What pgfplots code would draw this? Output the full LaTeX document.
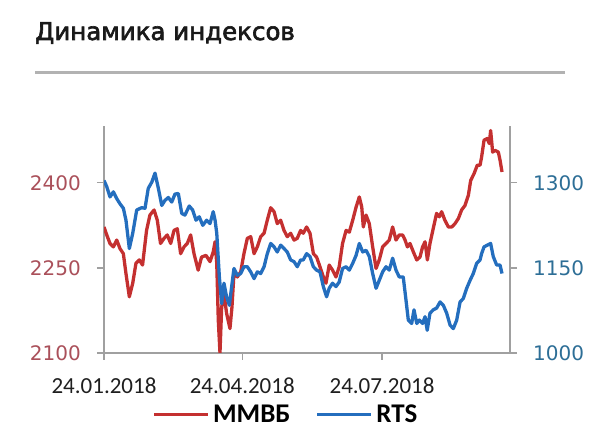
\documentclass[border=0pt]{standalone}
\usepackage{pgfplots}
\usepackage{pgfplotstable}
\pgfplotsset{compat=1.18}
\usepackage{fontspec}
\setmainfont{Carlito}
\newfontfamily\dejavu{DejaVu Sans}
\newfontfamily\titlefont[FakeBold=2.5]{DejaVu Sans}

\definecolor{mmvbred}{RGB}{196,48,48}
\definecolor{rtsblue}{RGB}{36,110,190}
\definecolor{leftlab}{RGB}{170,80,90}
\definecolor{rightlab}{RGB}{45,110,150}
\definecolor{axgray}{RGB}{160,160,160}
\definecolor{rulegray}{RGB}{178,178,178}

% day = days since 24.01.2018
\pgfplotstableread{
day mmvb
0 2322
1.8 2308
3.9 2293
6.1 2287
8.3 2299
10.4 2284
12.6 2275
14.3 2240
16.5 2199
18.7 2223
20.8 2258
23.0 2264
25.1 2255
27.7 2316
29.9 2343
32.6 2352
34.7 2334
36.8 2293
39.1 2302
41.2 2308
43.4 2293
45.6 2316
47.7 2319
49.9 2275
52.1 2287
54.2 2293
56.4 2308
58.6 2275
61.3 2246
63.5 2269
66.4 2272
69.0 2261
71.1 2278
72.3 2296
73.4 2258
74.4 2158
75.5 2100
76.6 2181
78.1 2205
79.8 2170
82.0 2143
83.3 2181
84.6 2240
86.8 2234
89.0 2243
91.1 2275
93.3 2302
95.5 2305
97.7 2275
99.8 2287
102.0 2305
104.2 2311
106.3 2334
108.5 2356
110.7 2349
112.8 2328
115.0 2334
117.2 2316
119.3 2305
121.5 2311
123.7 2299
125.8 2302
128.0 2316
129.7 2311
131.9 2322
134.1 2311
136.3 2275
138.4 2269
140.6 2252
142.8 2234
144.5 2223
146.6 2255
148.8 2246
151.0 2234
153.1 2252
155.3 2293
157.6 2316
159.7 2313
161.9 2334
164.1 2357
166.2 2375
167.8 2357
168.8 2322
170.6 2343
172.7 2328
174.9 2287
177.1 2249
179.2 2264
181.4 2287
183.6 2293
185.7 2299
187.9 2322
190.1 2299
192.2 2308
194.4 2308
196.0 2299
197.5 2287
199.2 2293
201.4 2278
203.6 2264
205.7 2269
207.4 2287
209.0 2296
210.5 2264
212.2 2293
214.3 2319
216.5 2346
218.3 2340
219.8 2349
221.9 2334
224.2 2322
226.4 2322
228.5 2328
230.7 2337
232.8 2352
235.0 2360
237.2 2378
238.7 2404
240.9 2416
243.0 2431
244.8 2431
245.8 2445
247.4 2475
249.5 2478
250.8 2469
251.7 2492
253.0 2454
254.6 2457
256.7 2454
257.8 2440
259.1 2419
}\mmvb

\pgfplotstableread{
day rts
0 1304
1.8 1293
3.9 1275
6.1 1284
8.3 1272
10.4 1263
12.6 1255
14.3 1234
16.5 1184
18.7 1211
21.3 1252
24.5 1256
26.7 1255
28.8 1290
31.1 1301
33.2 1317
35.4 1290
37.6 1260
39.7 1269
41.9 1274
44.1 1266
46.2 1280
48.4 1281
50.6 1246
52.7 1243
55.5 1259
57.7 1252
59.9 1234
62.0 1240
64.3 1225
66.8 1234
69.0 1228
71.1 1249
72.3 1234
73.4 1211
75.1 1134
76.6 1087
78.1 1123
79.8 1099
81.6 1084
83.1 1117
84.6 1149
86.8 1137
89.0 1140
91.1 1152
93.3 1152
95.5 1143
97.7 1131
99.8 1143
102.0 1140
104.2 1152
106.3 1175
108.5 1193
110.7 1187
112.8 1178
115.0 1190
117.2 1184
119.3 1178
121.5 1164
123.7 1161
125.8 1152
128.0 1164
129.7 1164
131.9 1175
134.1 1170
136.3 1152
138.4 1146
140.6 1143
142.8 1117
144.9 1099
146.6 1114
148.8 1123
151.0 1117
153.1 1125
155.3 1149
157.6 1152
159.7 1146
161.9 1158
164.1 1172
166.2 1193
168.4 1178
170.6 1181
172.7 1170
174.9 1140
177.1 1114
179.2 1128
181.4 1143
183.6 1152
185.7 1146
187.9 1167
190.1 1146
192.2 1134
194.8 1134
196.6 1093
198.1 1058
200.3 1052
201.8 1076
203.6 1052
205.3 1058
207.4 1052
209.0 1064
210.4 1040
212.2 1070
214.3 1076
216.5 1079
218.8 1090
220.9 1084
223.1 1070
225.3 1049
227.4 1043
229.6 1058
231.8 1090
233.9 1096
236.1 1114
238.3 1128
240.4 1140
242.6 1158
244.8 1164
245.8 1175
247.4 1187
249.5 1190
251.7 1193
253.4 1170
255.6 1155
257.8 1155
259.1 1140
}\rts

\pgfplotsset{
    every axis/.append style={
        scale only axis,
        width=406pt,
        height=227pt,
        xmin=0, xmax=264.3,
        axis line style={axgray, line width=1.3pt},
        tick style={axgray, line width=1.3pt},
        major tick length=7pt,
        tick align=outside,
        /pgf/number format/1000 sep={},
        /pgf/number format/assume math mode=true,
    },
}

\begin{document}
\begin{tikzpicture}
\useasboundingbox (0,0) rectangle (600pt,446pt);

\node[anchor=base west, inner sep=0pt, font=\titlefont\fontsize{24.5}{24.5}\selectfont, text=black!90]
    at (35pt,406pt) {Динамика индексов};
\draw[rulegray, line width=3pt] (35pt,373pt) -- (565pt,373pt);

% left axis: MMVB
\begin{axis}[
    at={(104pt,93pt)}, anchor=south west,
    ymin=2100, ymax=2500,
    ytick={2100,2250,2400},
    xtick={0,90,181},
    xticklabels={24.01.2018,24.04.2018,24.07.2018},
    axis x line*=bottom,
    axis y line*=left,
    xticklabel style={anchor=north, inner sep=0pt, yshift=-18pt,
        font=\fontsize{23}{23}\selectfont, text=black!88},
    yticklabel style={anchor=east, inner sep=0pt, xshift=-16pt,
        font=\dejavu\fontsize{20}{20}\selectfont, text=leftlab},
]
\addplot[mmvbred, line width=3.3pt, line join=round] table[x=day, y=mmvb] {\mmvb};
\end{axis}

% right axis: RTS
\begin{axis}[
    at={(104pt,93pt)}, anchor=south west,
    ymin=1000, ymax=1400,
    ytick={1000,1150,1300},
    axis x line=none,
    axis y line*=right,
    yticklabel style={anchor=west, inner sep=0pt, xshift=16pt,
        font=\dejavu\fontsize{20}{20}\selectfont, text=rightlab},
    legend columns=2,
    legend style={at={(0.45,-0.27)}, anchor=center, draw=none, fill=none,
        font=\fontsize{27}{27}\selectfont\bfseries,
        nodes={inner xsep=3.5pt, inner ysep=0pt},
        /tikz/every even column/.append style={column sep=22pt}},
    legend image code/.code={\draw[#1, line width=3pt] (0pt,0pt) -- (54pt,0pt);},
]
\addlegendimage{mmvbred}
\addlegendentry{ММВБ}
\addplot[rtsblue, line width=3.3pt, line join=round] table[x=day, y=rts] {\rts};
\addlegendentry{RTS}
\end{axis}
\end{tikzpicture}
\end{document}
